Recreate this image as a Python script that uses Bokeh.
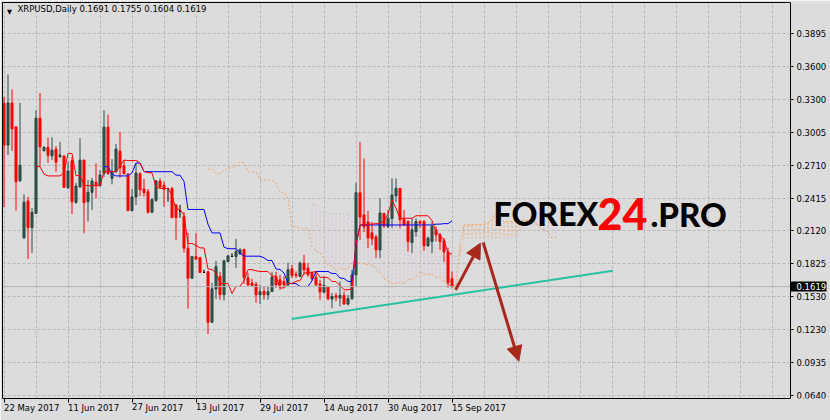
import numpy as np
from bokeh.plotting import figure
from bokeh.models import Range1d, FixedTicker, Label, Arrow, NormalHead, LinearAxis
from bokeh.embed import file_html
from bokeh.resources import INLINE

# XRPUSD daily bars (22 May 2017 .. 15 Sep 2017)
opens = [0.3267, 0.2891, 0.3270, 0.3055, 0.2571, 0.2059, 0.2389, 0.2149, 0.2278, 0.3133,
         0.2840, 0.2870, 0.2795, 0.2855, 0.2786, 0.2792, 0.2508, 0.2750, 0.2377, 0.2517,
         0.2756, 0.2382, 0.2467, 0.2556, 0.2526, 0.2637, 0.3052, 0.2592, 0.2651, 0.2837,
         0.2705, 0.2631, 0.2302, 0.2425, 0.2633, 0.2496, 0.2472, 0.2287, 0.2395, 0.2568,
         0.2532, 0.2499, 0.2502, 0.2353, 0.2299, 0.2248, 0.1964, 0.1695, 0.1889, 0.1880,
         0.1747, 0.1752, 0.1299, 0.1597, 0.1710, 0.1546, 0.1844, 0.1891, 0.1889, 0.1913,
         0.1954, 0.1698, 0.1651, 0.1640, 0.1546, 0.1575, 0.1546, 0.1575, 0.1710, 0.1680,
         0.1665, 0.1635, 0.1779, 0.1731, 0.1710, 0.1830, 0.1785, 0.1740, 0.1701, 0.1644,
         0.1570, 0.1615, 0.1507, 0.1537, 0.1516, 0.1539, 0.1462, 0.1510, 0.1725, 0.2463,
         0.2263, 0.2200, 0.2102, 0.2066, 0.1949, 0.2278, 0.2158, 0.2233, 0.2436, 0.2502,
         0.2224, 0.2203, 0.2015, 0.2113, 0.2203, 0.2203, 0.1985, 0.2024, 0.2129, 0.2084,
         0.2030, 0.1931, 0.1691]
highs = [0.3324, 0.3527, 0.3393, 0.3061, 0.3270, 0.2449, 0.2427, 0.2326, 0.3205, 0.3360,
         0.2882, 0.2960, 0.2962, 0.2882, 0.2920, 0.2801, 0.2741, 0.2783, 0.2553, 0.2954,
         0.2760, 0.2577, 0.2595, 0.2727, 0.2667, 0.3205, 0.3166, 0.2765, 0.2902, 0.3010,
         0.2756, 0.2640, 0.2496, 0.2727, 0.2649, 0.2586, 0.2496, 0.2416, 0.2577, 0.2592,
         0.2562, 0.2505, 0.2514, 0.2362, 0.2353, 0.2290, 0.2102, 0.1895, 0.2099, 0.1886,
         0.1770, 0.1761, 0.1653, 0.1850, 0.1752, 0.1860, 0.1904, 0.1920, 0.2048, 0.1967,
         0.1958, 0.1743, 0.1689, 0.1662, 0.1635, 0.1617, 0.1617, 0.1752, 0.1752, 0.1725,
         0.1710, 0.1833, 0.1815, 0.1755, 0.1844, 0.1904, 0.1830, 0.1755, 0.1755, 0.1680,
         0.1710, 0.1620, 0.1561, 0.1563, 0.1665, 0.1575, 0.1546, 0.1770, 0.2553, 0.2920,
         0.2771, 0.2299, 0.2200, 0.2084, 0.2413, 0.2281, 0.2308, 0.2592, 0.2592, 0.2505,
         0.2308, 0.2218, 0.2233, 0.2233, 0.2218, 0.2218, 0.2068, 0.2203, 0.2158, 0.2102,
         0.2057, 0.1967, 0.1755]
lows = [0.2335, 0.2801, 0.2840, 0.2302, 0.2559, 0.2048, 0.1868, 0.1922, 0.2272, 0.2702,
        0.2837, 0.2732, 0.2756, 0.2651, 0.2778, 0.2505, 0.2496, 0.2272, 0.2362, 0.2505,
        0.2099, 0.2203, 0.2308, 0.2413, 0.2523, 0.2606, 0.2622, 0.2538, 0.2646, 0.2597,
        0.2631, 0.2299, 0.2299, 0.2353, 0.2433, 0.2427, 0.2275, 0.2281, 0.2380, 0.2502,
        0.2337, 0.2382, 0.2236, 0.2036, 0.2239, 0.1925, 0.1420, 0.1689, 0.1860, 0.1743,
        0.1746, 0.1193, 0.1295, 0.1507, 0.1501, 0.1495, 0.1842, 0.1889, 0.1785, 0.1904,
        0.1644, 0.1617, 0.1617, 0.1474, 0.1462, 0.1501, 0.1501, 0.1573, 0.1608, 0.1590,
        0.1606, 0.1626, 0.1695, 0.1695, 0.1707, 0.1725, 0.1710, 0.1674, 0.1626, 0.1501,
        0.1555, 0.1495, 0.1426, 0.1486, 0.1441, 0.1456, 0.1450, 0.1501, 0.1620, 0.2039,
        0.2110, 0.1964, 0.1994, 0.1875, 0.1875, 0.2146, 0.2146, 0.2146, 0.2377, 0.2144,
        0.2164, 0.1934, 0.1920, 0.2068, 0.2146, 0.1940, 0.1979, 0.1920, 0.2024, 0.1949,
        0.1842, 0.1608, 0.1604]
closes = [0.2891, 0.3270, 0.3037, 0.2562, 0.2709, 0.2377, 0.2149, 0.2287, 0.3133, 0.2875,
          0.2870, 0.2798, 0.2846, 0.2738, 0.2801, 0.2511, 0.2658, 0.2382, 0.2523, 0.2756,
          0.2373, 0.2467, 0.2568, 0.2526, 0.2622, 0.3052, 0.2637, 0.2658, 0.2855, 0.2687,
          0.2633, 0.2302, 0.2425, 0.2640, 0.2490, 0.2463, 0.2287, 0.2400, 0.2568, 0.2514,
          0.2494, 0.2499, 0.2239, 0.2239, 0.2299, 0.1964, 0.1695, 0.1889, 0.1866, 0.1746,
          0.1747, 0.1299, 0.1599, 0.1799, 0.1546, 0.1850, 0.1895, 0.1891, 0.1934, 0.1949,
          0.1703, 0.1635, 0.1629, 0.1546, 0.1573, 0.1546, 0.1573, 0.1704, 0.1635, 0.1631,
          0.1635, 0.1770, 0.1719, 0.1719, 0.1830, 0.1770, 0.1725, 0.1689, 0.1635, 0.1570,
          0.1629, 0.1510, 0.1530, 0.1521, 0.1539, 0.1462, 0.1510, 0.1725, 0.2463, 0.2245,
          0.2155, 0.2057, 0.2048, 0.1949, 0.2281, 0.2164, 0.2233, 0.2442, 0.2502, 0.2218,
          0.2173, 0.2024, 0.2129, 0.2203, 0.2189, 0.1985, 0.2054, 0.2158, 0.2084, 0.2024,
          0.1931, 0.1653, 0.1619]

symbol = "XRPUSD,Daily"
date_tick_bars = [0, 16, 32, 48, 64, 80, 96, 112]
date_tick_labels = ["22 May 2017", "11 Jun 2017", "27 Jun 2017", "13 Jul 2017",
                    "29 Jul 2017", "14 Aug 2017", "30 Aug 2017", "15 Sep 2017"]
price_ticks = [0.0640, 0.0935, 0.1230, 0.1530, 0.1825, 0.2120,
               0.2415, 0.2710, 0.3005, 0.3300, 0.3600, 0.3895]

# hand-drawn markup: support line and the two scenario arrows (bar index, price)
trend_bars = [71.9, 152.2]
trend_prices = [0.1328, 0.1761]
arrow_up_bars = [112.9, 119.1]
arrow_up_prices = [0.1590, 0.2009]
arrow_down_bars = [119.8, 128.7]
arrow_down_prices = [0.2015, 0.0948]

TENKAN, KIJUN, SENKOU = 9, 26, 52

o = np.array(opens)
h = np.array(highs)
l = np.array(lows)
c = np.array(closes)
n = len(c)
bars = np.arange(n)


def channel_mid(period):
    out = np.full(n, np.nan)
    for i in range(period - 1, n):
        out[i] = (h[i - period + 1:i + 1].max() + l[i - period + 1:i + 1].min()) / 2
    return out


tenkan = channel_mid(TENKAN)
kijun = channel_mid(KIJUN)
span_a = np.full(n + KIJUN, np.nan)
span_b = np.full(n + KIJUN, np.nan)
span_a[KIJUN:] = (tenkan + kijun) / 2
span_b[KIJUN:] = channel_mid(SENKOU)
span_x = np.arange(n + KIJUN)

FONT = "DejaVu Sans"
BG = "#dcdcdc"
BAR_PX = 4                      # horizontal pixels per daily bar
X_START = -0.375                # left edge of the chart window
X_EDGE = 196.625                # right edge of the chart window (price scale starts here)
X_END = X_START + 828 / BAR_PX  # canvas edge, the price scale sits inside the frame
Y_START, Y_END = 0.06131, 0.4173

p = figure(width=830, height=420,
           x_range=Range1d(X_START, X_END), y_range=Range1d(Y_START, Y_END),
           y_axis_location=None, output_backend="svg", toolbar_location=None,
           min_border_left=2, min_border_right=0, min_border_top=2, min_border_bottom=21,
           background_fill_color=BG, border_fill_color=BG, outline_line_color=None)

# grid
p.xgrid.ticker = FixedTicker(ticks=list(range(0, 197, 8)))
p.ygrid.ticker = FixedTicker(ticks=price_ticks)
for g in (p.xgrid, p.ygrid):
    g.grid_line_color = "#b8b8b8"
    g.grid_line_dash = "3 2"
    g.grid_line_width = 1
if "cross_bounds" in p.ygrid[0].properties():
    p.ygrid.cross_bounds = (X_START, X_EDGE)
else:
    p.ygrid.grid_line_color = None
    p.segment(x0=X_START, x1=X_EDGE, y0=price_ticks, y1=price_ticks,
              line_color="#b8b8b8", line_dash="3 2", line_width=1)

# time axis: labels start at their tick (tiny negative tilt gives left anchoring)
xa = p.below[0]
xa.bounds = (X_START, X_EDGE)
xa.ticker = FixedTicker(ticks=date_tick_bars)
xa.major_label_overrides = dict(zip(date_tick_bars, date_tick_labels))
xa.major_label_orientation = -1e-6
xa.major_tick_out = 4
xa.major_tick_in = 0
xa.major_label_standoff = 5
xa.minor_tick_line_color = None
xa.axis_line_color = "#000000"
xa.major_tick_line_color = "#000000"
xa.major_label_text_font = FONT
xa.major_label_text_font_size = "8.5px"
xa.major_label_text_color = "#000000"


def plain_axis(**kw):
    return LinearAxis(ticker=FixedTicker(ticks=[]), major_tick_out=0, major_tick_in=0,
                      minor_tick_out=0, minor_tick_in=0, major_label_standoff=0,
                      axis_line_color="#000000", **kw)


# chart window border (left / top)
p.add_layout(plain_axis(), "left")
p.add_layout(plain_axis(bounds=(X_START, X_EDGE)), "above")

# price scale at the right edge of the chart window
ya = LinearAxis(fixed_location=X_EDGE, ticker=FixedTicker(ticks=price_ticks),
                major_label_overrides={t: f"{t:.4f}" for t in price_ticks},
                major_tick_out=3, major_tick_in=0, minor_tick_line_color=None,
                major_label_standoff=3, axis_line_color="#000000",
                major_tick_line_color="#000000", major_label_text_font=FONT,
                major_label_text_font_size="8.5px", major_label_text_color="#000000")
p.add_layout(ya, "right")

# current price tag on the price scale
tag = LinearAxis(fixed_location=X_EDGE, ticker=FixedTicker(ticks=[closes[-1]]),
                 major_label_overrides={closes[-1]: f"{closes[-1]:.4f}"},
                 major_tick_out=36, major_tick_in=0, major_tick_line_width=10,
                 major_tick_line_color="#000000", major_tick_line_cap="butt",
                 axis_line_color=None, minor_tick_line_color=None,
                 major_label_standoff=-30, major_label_text_color="#ffffff",
                 major_label_text_font=FONT, major_label_text_font_size="8.5px")
p.add_layout(tag, "right")

# Ichimoku cloud hatching
cloud_x, cloud_y0, cloud_y1, cloud_col = [], [], [], []
for j in span_x:
    a, b = span_a[j], span_b[j]
    if np.isfinite(a) and np.isfinite(b):
        cloud_x.append(int(j))
        cloud_y0.append(float(a))
        cloud_y1.append(float(b))
        cloud_col.append("#f4a460" if a > b else "#d8bfd8")
p.segment(x0=cloud_x, y0=cloud_y0, x1=cloud_x, y1=cloud_y1, line_color=cloud_col,
          line_width=1, line_dash="2 2")
p.line(span_x, span_a, line_color="#f4a460", line_width=1, line_dash="2 2")
p.line(span_x, span_b, line_color="#d8bfd8", line_width=1, line_dash="2 2")

# candles
bull = c > o
doji = c == o
wick_col = np.where(doji, "#000000", np.where(bull, "#2f4f4f", "#ff0000"))
body_fill = np.where(doji, "#000000", np.where(bull, "#2f6a57", "#ff0000"))
body_line = np.where(doji, "#000000", np.where(bull, "#243c36", "#ff0000"))
p.segment(x0=bars, y0=h, x1=bars, y1=l, line_color=list(wick_col), line_width=1)
p.vbar(x=bars, width=0.5, top=np.maximum(o, c), bottom=np.minimum(o, c),
       fill_color=list(body_fill), line_color=list(body_line), line_width=1)

# Tenkan / Kijun
p.line(bars, kijun, line_color="#0000ff", line_width=1)
p.line(bars, tenkan, line_color="#ff0000", line_width=1)

# bid line
p.segment(x0=[X_START], x1=[X_EDGE], y0=[closes[-1]], y1=[closes[-1]],
          line_color="#b4b4b4", line_width=1)

# support line and arrows
p.segment(x0=[trend_bars[0]], y0=[trend_prices[0]], x1=[trend_bars[1]], y1=[trend_prices[1]],
          line_color="#27c2a2", line_width=2)
ARROW = "#a8281c"
for xs, ys in ((arrow_up_bars, arrow_up_prices), (arrow_down_bars, arrow_down_prices)):
    p.add_layout(Arrow(end=NormalHead(size=15, fill_color=ARROW, line_color=ARROW),
                       x_start=xs[0], y_start=ys[0], x_end=xs[1], y_end=ys[1],
                       line_color=ARROW, line_width=3))

# header line
p.add_layout(Label(x=4.5, y=390.5, x_units="screen", y_units="screen", text="\u25bc",
                   text_baseline="top", text_font=FONT, text_font_size="6.5px",
                   text_color="#000000"))
quote = "  ".join([symbol, " ".join(f"{v:.4f}" for v in (opens[-1], highs[-1], lows[-1], closes[-1]))])
p.add_layout(Label(x=15, y=394.5, x_units="screen", y_units="screen", text=quote,
                   text_baseline="top", text_font=FONT, text_font_size="8.5px",
                   text_color="#000000"))

# watermark
WM_FONT = "'Lato Black', 'Roboto Black', 'Inter Black', 'Liberation Sans', sans-serif"
for txt, sx, size, col in (("FOREX", 491, "32px", "#000000"), ("24", 595, "43px", "#ff0000"),
                           (".PRO", 648, "33px", "#000000")):
    p.add_layout(Label(x=sx, y=185, x_units="screen", y_units="screen", text=txt,
                       text_baseline="alphabetic", text_align="left", text_font=WM_FONT,
                       text_font_style="bold", text_font_size=size, text_color=col))

open("out.html", "w").write(file_html(p, INLINE))
